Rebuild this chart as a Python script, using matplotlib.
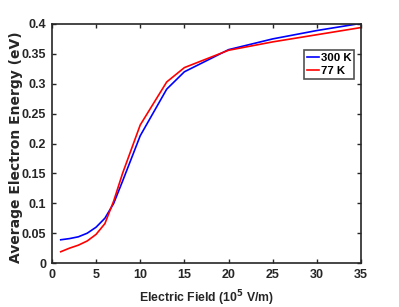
import matplotlib
matplotlib.use('Agg')
import matplotlib.pyplot as plt

# electric field (1e5 V/m)
field = [1, 2, 3, 4, 5, 6, 7, 8, 10, 13, 15, 20, 25, 30, 35]
# average electron energy (eV)
energy_300k = [0.039, 0.041, 0.044, 0.050, 0.060, 0.075, 0.100, 0.137,
               0.213, 0.291, 0.320, 0.357, 0.375, 0.389, 0.401]
energy_77k = [0.019, 0.025, 0.030, 0.037, 0.048, 0.066, 0.104, 0.150,
              0.231, 0.303, 0.327, 0.356, 0.370, 0.382, 0.394]

xticks = [0, 5, 10, 15, 20, 25, 30, 35]
yticks = [0, 0.05, 0.1, 0.15, 0.2, 0.25, 0.3, 0.35, 0.4]
ytick_labels = ['0', '0.05', '0.1', '0.15', '0.2', '0.25', '0.3', '0.35', '0.4']

plt.rcParams['font.family'] = ['Liberation Sans', 'DejaVu Sans']
plt.rcParams['font.weight'] = 'bold'

fig = plt.figure(figsize=(3.99, 3.07), dpi=100)
ax = fig.add_axes([0.130, 0.143, 0.775, 0.779])

ax.plot(field, energy_300k, color='#0000ff', lw=1.2, label='300 K')
ax.plot(field, energy_77k, color='#ff0000', lw=1.2, label='77 K')

ax.set_xlim(0, 35)
ax.set_ylim(0, 0.4)
ax.set_xticks(xticks)
ax.set_yticks(yticks)
ax.set_yticklabels(ytick_labels)
ax.tick_params(direction='in', top=True, right=True, length=3, width=1,
               labelsize=9, colors='#262626', pad=4)
for s in ax.spines.values():
    s.set_linewidth(1.2)
    s.set_color('#262626')

ax.set_xlabel('Electric Field (10$^5$ V/m)', fontsize=8.8, fontweight='bold',
              color='#262626')
ax.xaxis.set_label_coords(0.5, -0.105)
ax.set_ylabel('Average Electron Energy (eV)', fontsize=10, fontweight='bold',
              color='#262626', family='DejaVu Sans')
ax.yaxis.set_label_coords(-0.094, 0.485)

leg = ax.legend(loc='upper right', bbox_to_anchor=(0.977, 0.891), fontsize=8.2,
                frameon=True, fancybox=False, handlelength=1.1,
                handletextpad=0.1, borderpad=0.25, labelspacing=0.3,
                borderaxespad=0)
leg.get_frame().set_edgecolor('#262626')
leg.get_frame().set_linewidth(1.2)

fig.savefig('out.png', dpi=100)
